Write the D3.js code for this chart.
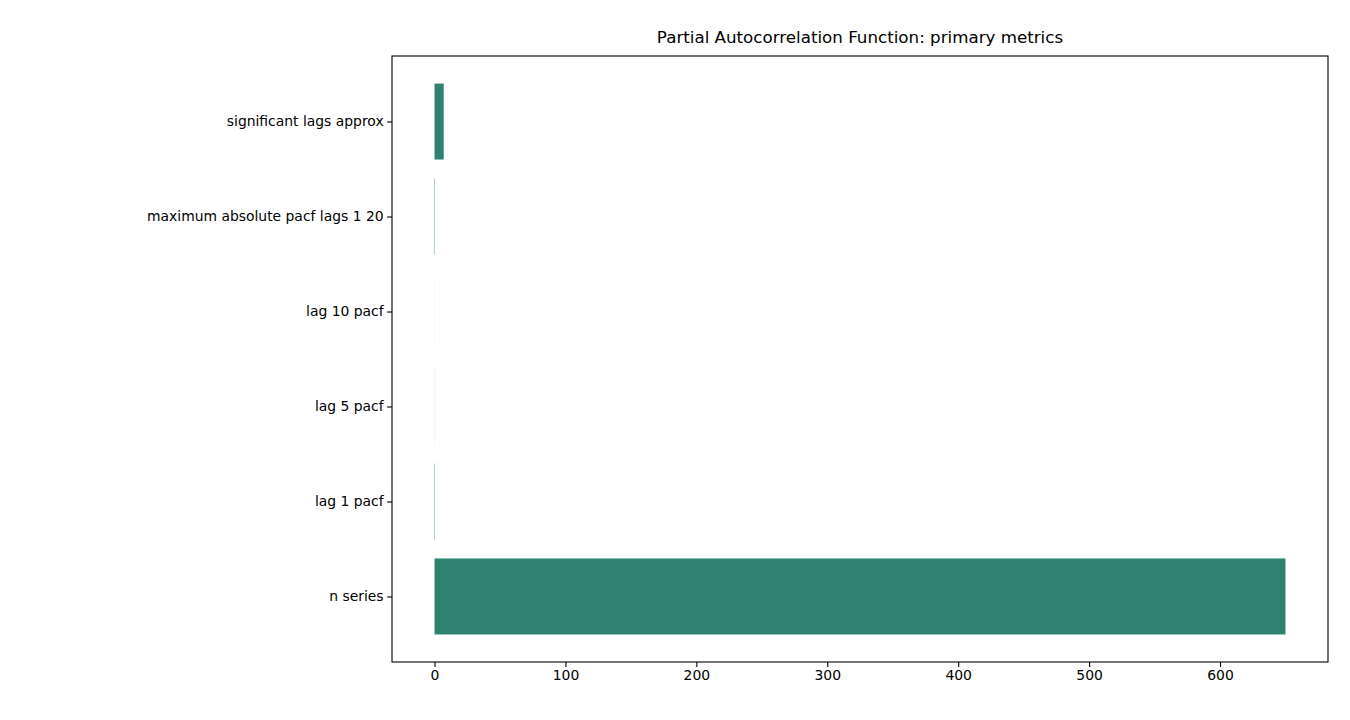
<!DOCTYPE html>
<html><head><meta charset="utf-8">
<script src="https://cdn.jsdelivr.net/npm/d3@7"></script>
<style>body{margin:0;background:#fff}</style></head>
<body><svg id="c" width="1350" height="720"></svg>
<script>
const categories = ["n series","lag 1 pacf","lag 5 pacf","lag 10 pacf","maximum absolute pacf lags 1 20","significant lags approx"];
const values = [650, 0.3, 0.05, 0.03, 0.3, 7];
const xTicks = [0,100,200,300,400,500,600];
const color = "#2e8270";

const svg = d3.select("#c");
const L=392,R=1328,T=56,B=662;
const x = d3.scaleLinear().domain([-32.5,682.5]).range([L,R]);
const n = categories.length;
const pad = 0.05*(n-1+0.8);
const y = d3.scaleLinear().domain([-0.4-pad, n-1+0.4+pad]).range([B,T]);
const bh = y(0)-y(0.8);
const font="'DejaVu Sans', sans-serif";

svg.append("g").selectAll("rect").data(values).join("rect")
  .attr("x",d=>x(Math.min(0,d))).attr("width",d=>Math.abs(x(d)-x(0)))
  .attr("y",(d,i)=>y(i+0.4)).attr("height",bh).attr("fill",color);

svg.append("g").attr("transform",`translate(0,${B})`)
  .call(d3.axisBottom(x).tickValues(xTicks).tickSize(4.9).tickPadding(3.5).tickFormat(d3.format("d")))
  .call(g=>{g.select(".domain").remove();g.selectAll("text").attr("font-size",13.9).attr("font-family",font).attr("fill","#000");g.selectAll("line").attr("stroke","#000").attr("stroke-width",1.1);});
svg.append("g").attr("transform",`translate(${L},0)`)
  .call(d3.axisLeft(y).tickValues(d3.range(n)).tickSize(4.9).tickPadding(3.5).tickFormat(i=>categories[i]))
  .call(g=>{g.select(".domain").remove();g.selectAll("text").attr("font-size",13.9).attr("font-family",font).attr("fill","#000");g.selectAll("line").attr("stroke","#000").attr("stroke-width",1.1);});

svg.append("rect").attr("x",L).attr("y",T).attr("width",R-L).attr("height",B-T)
  .attr("fill","none").attr("stroke","#000").attr("stroke-width",1.1);
svg.append("text").attr("x",(L+R)/2).attr("y",T-13).attr("text-anchor","middle")
  .attr("font-size",16.7).attr("font-family",font).text("Partial Autocorrelation Function: primary metrics");
</script></body></html>
